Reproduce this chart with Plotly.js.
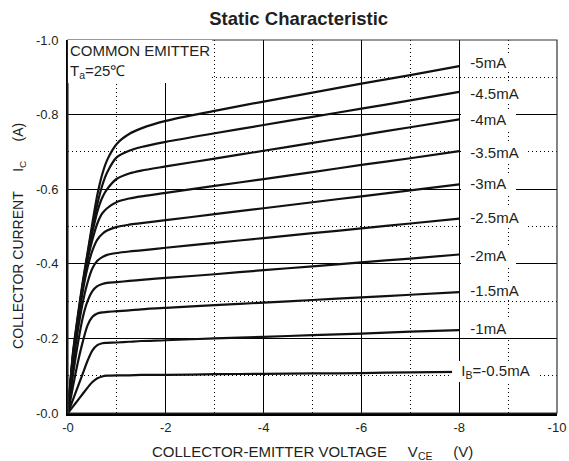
<!DOCTYPE html>
<html>
<head>
<meta charset="utf-8">
<script src="https://cdn.plot.ly/plotly-3.0.1.min.js"></script>
<style>html,body{margin:0;padding:0;background:#fff;}#chart{width:569px;height:461px;}</style>
</head>
<body>
<div id="chart"></div>
<script>
// Collector-emitter voltage (V) sample points
const vce = [0,-0.1,-0.2,-0.3,-0.4,-0.5,-0.6,-0.7,-0.8,-1.0,-1.25,-1.5,-2,-3,-4,-5,-6,-7,-8];
// Collector current (A) for each base current
const ic_05 = [0,-0.017,-0.034,-0.051,-0.068,-0.083,-0.093,-0.098,-0.100,-0.101,-0.101,-0.102,-0.102,-0.104,-0.105,-0.106,-0.107,-0.109,-0.110];
const ic_10 = [0,-0.035,-0.070,-0.105,-0.140,-0.168,-0.182,-0.187,-0.188,-0.189,-0.191,-0.193,-0.195,-0.200,-0.204,-0.209,-0.213,-0.218,-0.222];
const ic_15 = [0,-0.070,-0.135,-0.190,-0.235,-0.258,-0.267,-0.270,-0.271,-0.273,-0.275,-0.278,-0.282,-0.289,-0.296,-0.303,-0.310,-0.317,-0.324];
const ic_20 = [0,-0.100,-0.185,-0.255,-0.300,-0.327,-0.340,-0.346,-0.349,-0.351,-0.354,-0.357,-0.362,-0.372,-0.383,-0.393,-0.404,-0.414,-0.425];
const ic_25 = [0,-0.125,-0.220,-0.295,-0.350,-0.388,-0.408,-0.418,-0.424,-0.429,-0.433,-0.436,-0.443,-0.456,-0.469,-0.482,-0.495,-0.508,-0.521];
const ic_30 = [0,-0.140,-0.240,-0.325,-0.390,-0.436,-0.465,-0.480,-0.489,-0.499,-0.505,-0.509,-0.517,-0.533,-0.549,-0.565,-0.581,-0.597,-0.613];
const ic_35 = [0,-0.145,-0.245,-0.335,-0.410,-0.465,-0.508,-0.535,-0.549,-0.566,-0.575,-0.581,-0.590,-0.609,-0.627,-0.646,-0.665,-0.683,-0.702];
const ic_40 = [0,-0.150,-0.250,-0.340,-0.420,-0.485,-0.540,-0.577,-0.600,-0.628,-0.642,-0.650,-0.661,-0.682,-0.703,-0.724,-0.745,-0.766,-0.787];
const ic_45 = [0,-0.155,-0.255,-0.345,-0.425,-0.500,-0.560,-0.610,-0.645,-0.686,-0.703,-0.713,-0.727,-0.750,-0.772,-0.794,-0.816,-0.838,-0.861];
const ic_50 = [0,-0.160,-0.260,-0.350,-0.430,-0.510,-0.585,-0.640,-0.678,-0.722,-0.748,-0.763,-0.783,-0.810,-0.835,-0.859,-0.883,-0.906,-0.930];

// Curve labels (base current) and their positions
const curveLabels = ['-5mA','-4.5mA','-4mA','-3.5mA','-3mA','-2.5mA','-2mA','-1.5mA','-1mA','I<sub>B</sub>=-0.5mA'];
const labelY = [-0.941,-0.857,-0.787,-0.699,-0.616,-0.525,-0.423,-0.329,-0.227,-0.112];
const labelX = [-8.04,-8.04,-8.04,-8.04,-8.04,-8.04,-8.04,-8.04,-8.04,-7.86];

// Tick labels
const xTickVals = [0,-2,-4,-6,-8,-10];
const xTickText = ['-0','-2','-4','-6','-8','-10'];
const yTickVals = [0,-0.2,-0.4,-0.6,-0.8,-1.0];
const yTickText = ['-0.0','-0.2','-0.4','-0.6','-0.8','-1.0'];

const curves = [ic_05, ic_10, ic_15, ic_20, ic_25, ic_30, ic_35, ic_40, ic_45, ic_50];
const FONT = 'Liberation Sans, Arial, Helvetica, sans-serif';
const INK = '#231f20';
const NB = '\u00A0';

const traces = curves.map(ic => ({
  x: vce, y: ic, mode: 'lines', type: 'scatter',
  line: {color: '#111', width: 2.2, shape: 'spline', smoothing: 0.8},
  hoverinfo: 'skip', showlegend: false
}));

const annotations = curveLabels.map((t, i) => ({
  x: labelX[i], y: labelY[i], xref: 'x', yref: 'y',
  text: NB + NB + t + NB + NB, showarrow: false,
  xanchor: 'left', yanchor: 'middle',
  font: {family: FONT, size: 15, color: INK},
  bgcolor: '#ffffff', borderpad: 1, borderwidth: 0
}));

annotations.push({
  x: 0, y: 1, xref: 'paper', yref: 'paper', xanchor: 'left', yanchor: 'top',
  text: 'COMMON EMITTER<br>T<sub>a</sub>=25℃', align: 'left', showarrow: false,
  font: {family: FONT, size: 15, color: INK}, bgcolor: '#ffffff', borderpad: 2, borderwidth: 0
});
annotations.push({
  x: 0.5, y: -0.105, xref: 'paper', yref: 'paper', xanchor: 'center', yanchor: 'middle',
  text: 'COLLECTOR-EMITTER VOLTAGE' + NB.repeat(5) + 'V<sub>CE</sub>' + NB.repeat(5) + '(V)',
  showarrow: false, font: {family: FONT, size: 15, color: INK}
});
annotations.push({
  x: -0.1, y: 0.475, xref: 'paper', yref: 'paper', xanchor: 'center', yanchor: 'middle',
  textangle: -90,
  text: 'COLLECTOR CURRENT' + NB.repeat(5) + 'I<sub>C</sub>' + NB.repeat(5) + '(A)',
  showarrow: false, font: {family: FONT, size: 14, color: INK}
});

const layout = {
  width: 569, height: 461,
  margin: {l: 68, r: 12, t: 40, b: 48},
  paper_bgcolor: '#ffffff', plot_bgcolor: '#ffffff',
  title: {text: 'Static Characteristic', x: 0.525, y: 0.96, xanchor: 'center', yanchor: 'middle',
          font: {family: FONT, size: 18.5, color: INK, weight: 'bold'}},
  xaxis: {
    range: [0, -10], tickvals: xTickVals, ticktext: xTickText, ticks: '',
    showgrid: true, gridcolor: '#000', gridwidth: 1,
    minor: {dtick: 1, tick0: 0, showgrid: true, gridcolor: '#000', gridwidth: 1, griddash: '1px,3px'},
    zeroline: false, showline: true, linecolor: '#000', linewidth: 2.5,
    tickfont: {family: FONT, size: 13, color: INK}, ticklabelstandoff: 1, fixedrange: true
  },
  yaxis: {
    range: [0, -1], tickvals: yTickVals, ticktext: yTickText, ticks: '',
    showgrid: true, gridcolor: '#000', gridwidth: 1,
    minor: {dtick: 0.1, tick0: 0, showgrid: true, gridcolor: '#000', gridwidth: 1, griddash: '1px,3px'},
    zeroline: false, showline: true, linecolor: '#000', linewidth: 2,
    tickfont: {family: FONT, size: 13, color: INK}, ticklabelstandoff: 5, fixedrange: true
  },
  shapes: [{type: 'rect', xref: 'paper', yref: 'paper', x0: 0, x1: 1, y0: 0, y1: 1,
            line: {color: '#333', width: 1.2}, layer: 'above'}],
  annotations: annotations
};

Plotly.newPlot('chart', traces, layout, {staticPlot: true, displayModeBar: false});
</script>
</body>
</html>
